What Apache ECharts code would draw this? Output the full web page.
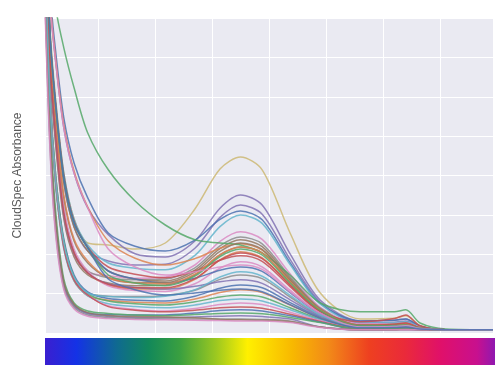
<!DOCTYPE html>
<html><head><meta charset="utf-8">
<script src="https://cdn.jsdelivr.net/npm/echarts@6/dist/echarts.min.js"></script>
<style>html,body{margin:0;padding:0;background:#fff}#c{width:496px;height:365px}</style>
</head><body><div id="c"></div>
<script>
const wavelengths = [307, 316, 326, 340, 358, 382, 418, 465, 518, 570, 614, 650, 688, 737, 790, 860, 920, 940, 965, 1010, 1093];

const c01 = [112, 76, 58, 40, 28.5, 22.5, 22, 21, 22.5, 31, 41, 44, 40.8, 25, 10, 3.5, 3.7, 4.3, 1.9, 0.8, 0.8];
const c02 = [115, 82.5, 67.5, 51.3, 40, 31.3, 24.6, 19.8, 19, 23, 31.2, 34.5, 32, 19.8, 8.2, 3, 3.2, 3.5, 1.7, 0.8, 0.8];
const c03 = [108, 72, 55, 37.5, 26.5, 20.5, 18, 17, 17.2, 21.2, 28.9, 32, 29.7, 18.4, 7.7, 2.5, 2.7, 3, 1.5, 0.8, 0.8];
const c04 = [117.5, 85, 70, 53.8, 42.5, 33.8, 25, 21.7, 20.5, 23.2, 28.4, 30.5, 28.3, 17.6, 7.4, 3, 3.2, 3.5, 1.7, 0.8, 0.8];
const c05 = [111, 75, 57.5, 40, 28.5, 22, 17.5, 16.2, 15.8, 19.4, 26.6, 29.5, 27.4, 17.1, 7.2, 2.5, 2.6, 2.8, 1.5, 0.8, 0.8];
const c06 = [104, 66, 47.5, 29, 19.5, 15.3, 14.3, 13.7, 14, 17, 22.9, 25.3, 23.4, 14.8, 6.4, 2.3, 2.4, 2.5, 1.4, 0.8, 0.8];
const c07 = [106, 69, 50, 31, 20.5, 15.5, 13.8, 13.3, 13.5, 16.3, 21.8, 24, 22.3, 14.1, 6.2, 2, 2.1, 2.3, 1.3, 0.8, 0.8];
const c08 = [109, 72.5, 55, 37.5, 26.5, 20.5, 15.5, 13.5, 13, 15.7, 21.1, 23.3, 21.6, 13.7, 6, 2, 2.2, 2.5, 1.3, 0.8, 0.8];
const c09 = [115, 83, 68, 52, 40.5, 31.5, 23, 18.7, 17, 18.6, 21.2, 22.3, 20.7, 13.2, 5.9, 2, 2.1, 2.3, 1.3, 0.8, 0.8];
const c10 = [103, 65, 46.5, 28.5, 19, 14.5, 12.5, 11.8, 12, 14.5, 19.5, 21.5, 20, 12.8, 5.7, 1.8, 1.9, 2, 1.2, 0.8, 0.8];
const c11 = [130, 100, 81.3, 71.3, 61.3, 50, 40.8, 33, 27, 23.3, 22.5, 22, 20, 14.5, 7.5, 5.3, 5.3, 5.8, 2.5, 1, 0.8];
const c12 = [105, 67.5, 48.8, 30, 20, 15, 12, 11, 11, 13.4, 18.3, 20.3, 18.8, 12.1, 5.5, 1.8, 1.9, 2, 1.2, 0.8, 0.8];
const c13 = [111, 74.5, 57, 39.5, 28, 21.5, 16.5, 14.7, 13.8, 15.5, 18.2, 19.3, 17.9, 11.6, 5.3, 2.8, 3.6, 4.5, 1.8, 0.8, 0.8];
const c14 = [106, 68.5, 50, 31.5, 21, 15.5, 11.8, 10.6, 10.4, 12.3, 16.2, 17.8, 16.5, 10.7, 5, 1.5, 1.6, 1.8, 1.1, 0.8, 0.8];
const c15 = [110, 73.8, 56.3, 38.8, 27.5, 21.3, 15.5, 13.5, 12.5, 13.7, 15.7, 16.5, 15.4, 10.1, 4.8, 1.8, 1.9, 2, 1.2, 0.8, 0.8];
const c16 = [97.5, 57.5, 37.5, 22.5, 14, 10, 9.2, 9.1, 9.4, 10.7, 13.4, 14.5, 13.6, 9, 4.4, 1.5, 1.6, 1.8, 1.1, 0.8, 0.8];
const c17 = [104, 66.5, 48, 29.5, 19.8, 15, 12.3, 11.4, 11, 11.7, 12.8, 13.3, 12.4, 8.3, 4.2, 1.5, 1.7, 2, 1.1, 0.8, 0.8];
const c18 = [99, 59.5, 39, 23.5, 14.5, 10.3, 8.6, 8.2, 8, 9.2, 11.2, 12, 11.3, 7.6, 3.9, 1.3, 1.4, 1.5, 1, 0.8, 0.8];
const c19 = [97, 57, 37, 21.5, 13, 9.3, 8.2, 7.7, 7.5, 8.5, 10.1, 10.8, 10.1, 7, 3.7, 1.3, 1.4, 1.5, 1, 0.8, 0.8];
const c20 = [98, 59, 39, 23, 14, 9.8, 8, 7.3, 7, 7.8, 9, 9.5, 9, 6.3, 3.4, 1.3, 1.5, 1.8, 1, 0.8, 0.8];
const c21 = [96, 56, 36, 21, 13, 9.3, 7.3, 6.6, 6.3, 7, 8.1, 8.5, 8, 5.8, 3.3, 1, 1.1, 1.3, 0.9, 0.8, 0.8];
const c22 = [97.5, 57.5, 37.5, 22, 13.5, 9.5, 6.8, 5.9, 5.5, 6.1, 7.1, 7.5, 7.1, 5.2, 3.1, 1, 1.1, 1.3, 0.9, 0.8, 0.8];
const c23 = [96.5, 57, 37, 21.5, 13.3, 9.5, 6.6, 5.7, 5.3, 5.7, 6.3, 6.5, 6.2, 4.7, 2.9, 1, 1.2, 1.5, 0.9, 0.8, 0.8];
const c24 = [86, 50, 28, 12.5, 7, 5, 4.6, 4.5, 4.5, 5, 5.6, 5.8, 5.5, 4.3, 2.7, 0.8, 0.9, 1, 0.8, 0.8, 0.8];
const c25 = [88, 52, 30, 13.5, 7.5, 5.5, 4.9, 4.5, 4.3, 4.6, 4.9, 5, 4.8, 3.9, 2.6, 1, 1.1, 1.3, 0.9, 0.8, 0.8];
const c26 = [85, 48, 27, 12, 6.8, 4.8, 4.2, 3.9, 3.8, 4, 4.2, 4.3, 4.1, 3.5, 1.5, 0.8, 0.8, 0.8, 0.8, 0.8, 0.8];
const c27 = [83, 46, 25, 11.3, 6.4, 4.5, 3.9, 3.6, 3.5, 3.5, 3.5, 3.5, 3.4, 3, 1.5, 0.8, 0.8, 0.9, 0.8, 0.8, 0.8];
const c28 = [87, 50, 28, 12.8, 7.2, 5.1, 4.4, 4.1, 4, 3.8, 3.4, 3.3, 3.2, 2.8, 1.5, 0.8, 0.8, 0.9, 0.8, 0.8, 0.8];
const c29 = [81, 45, 24, 10.8, 6, 4.2, 3.6, 3.4, 3.3, 3.2, 3.1, 3, 3, 2.6, 1.4, 0.8, 0.8, 0.8, 0.8, 0.8, 0.8];
const c30 = [107.5, 70, 52.5, 33.8, 23, 17.5, 13.8, 12.6, 12.6, 15.2, 20.4, 22.5, 20.9, 13.3, 5.9, 2, 2.1, 2.3, 1.3, 0.8, 0.8];
const c31 = [108, 71, 53.5, 34.5, 23.5, 18, 13.8, 12.5, 12.3, 14.7, 19.6, 21.5, 20, 12.8, 5.7, 1.8, 2, 2.3, 1.2, 0.8, 0.8];
const c32 = [105, 67.5, 48.8, 30, 20, 15, 12.2, 11.3, 11.3, 13.6, 18.2, 20, 18.6, 12, 5.4, 1.8, 2.1, 2.5, 1.2, 0.8, 0.8];
const c33 = [110, 73.8, 56.3, 38.8, 27.5, 21.3, 14.5, 12.5, 11.8, 14.2, 19.1, 21, 19.5, 12.5, 5.6, 1.8, 1.9, 2, 1.2, 0.8, 0.8];
const c34 = [97.5, 57.5, 37.5, 22.5, 14, 10, 9.1, 8.9, 9.2, 10.8, 14, 15.3, 14.2, 9.4, 4.5, 1.5, 1.6, 1.8, 1.1, 0.8, 0.8];
const c35 = [115, 82.5, 67.5, 51.3, 40, 31.3, 21, 16.5, 14.5, 15.3, 16.5, 17, 15.9, 10.3, 4.9, 1.5, 1.6, 1.8, 1.1, 0.8, 0.8];
const c36 = [110, 73.8, 56.3, 38.8, 27.5, 21.3, 13.5, 10.8, 9.5, 10, 10.7, 11, 10.3, 7.1, 3.7, 1.3, 1.4, 1.5, 1, 0.8, 0.8];

const curves = [c01,c02,c03,c04,c05,c06,c07,c08,c09,c10,c11,c12,c13,c14,c15,c16,c17,c18,
                c19,c20,c21,c22,c23,c24,c25,c26,c27,c28,c29,c30,c31,c32,c33,c34,c35,c36];
const curveColors = ['#CCB974','#8172B3','#8172B3','#4C72B0','#64B5CD','#DA8BC3','#8C8C8C','#937860','#DD8452','#937860',
                     '#55A868','#DD8452','#C44E52','#DA8BC3','#4C72B0','#8C8C8C','#8172B3','#4C72B0','#DD8452','#55A868',
                     '#64B5CD','#DA8BC3','#C44E52','#4C72B0','#55A868','#8172B3','#8C8C8C','#937860','#DA8BC3','#937860',
                     '#DD8452','#C44E52','#55A868','#64B5CD','#DA8BC3','#4C72B0'];
const barStops = [[0,'#3a1fd0'],[0.07,'#1432e6'],[0.16,'#0f6a90'],[0.23,'#12885a'],[0.3,'#3aa040'],[0.38,'#9cc820'],
                  [0.45,'#fff000'],[0.55,'#f8b800'],[0.63,'#f28a18'],[0.72,'#ee4020'],[0.8,'#ea2a3a'],[0.88,'#e0106a'],
                  [0.96,'#c8108e'],[1,'#9018b0']];

const chart = echarts.init(document.getElementById('c'), null, {renderer: 'canvas'});
chart.setOption({
  animation: false,
  grid: {left: 45, right: 3, top: 18, bottom: 32, show: true, backgroundColor: '#EAEAF2', borderWidth: 0},
  xAxis: {
    type: 'value', min: 307, max: 1093, splitNumber: 8, minInterval: 100, maxInterval: 100,
    axisLine: {show: false}, axisTick: {show: false}, axisLabel: {show: false},
    splitLine: {show: true, lineStyle: {color: '#ffffff', width: 1}}
  },
  yAxis: {
    type: 'value', min: 0, max: 78.75, interval: 9.84375,
    name: 'CloudSpec Absorbance', nameLocation: 'middle', nameGap: 21,
    nameTextStyle: {fontFamily: 'Liberation Sans, Arial, sans-serif', fontSize: 12, color: '#5a5a5a'},
    axisLine: {show: false}, axisTick: {show: false}, axisLabel: {show: false},
    splitLine: {show: true, lineStyle: {color: '#ffffff', width: 1}}
  },
  series: curves.map((d, i) => ({
    type: 'line', silent: true, showSymbol: false, symbol: 'none', smooth: 0.3,
    data: wavelengths.map((w, j) => [w, d[j]]),
    lineStyle: {color: curveColors[i], width: 1.5, opacity: 0.85},
    z: 2
  })),
  graphic: [{
    type: 'rect', left: 45, top: 338, silent: true,
    shape: {width: 450, height: 27},
    style: {fill: new echarts.graphic.LinearGradient(0, 0, 1, 0, barStops.map(s => ({offset: s[0], color: s[1]})))}
  }]
});
</script></body></html>
